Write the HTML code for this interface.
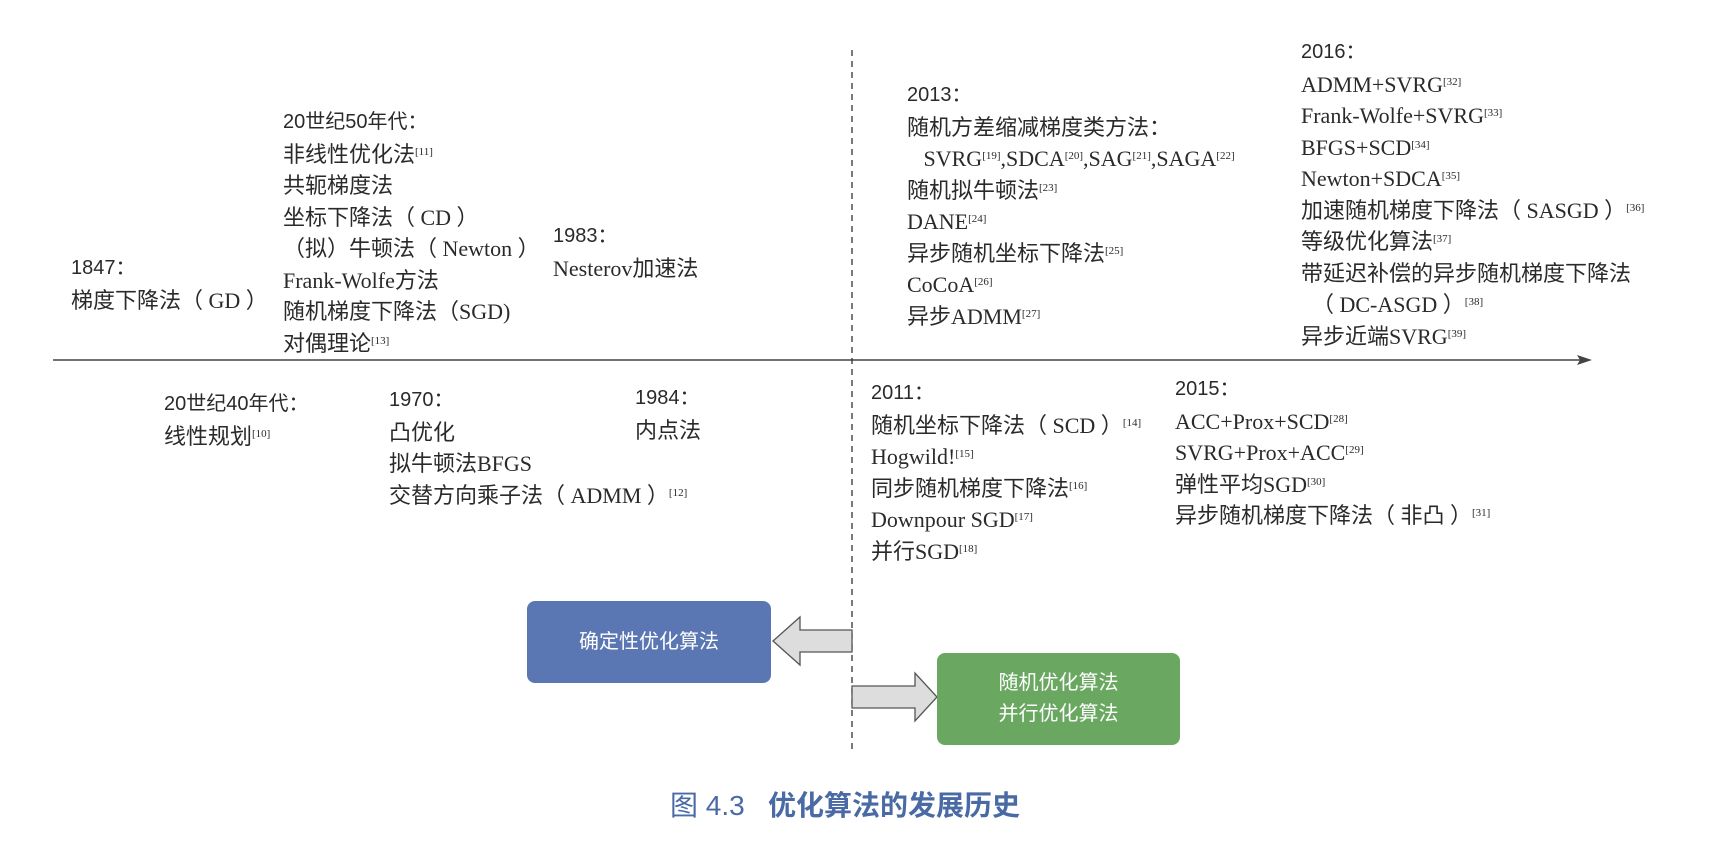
<!DOCTYPE html>
<html><head><meta charset="utf-8"><style>
body{margin:0;width:1722px;height:866px;background:#fff;position:relative;overflow:hidden;font-family:"Liberation Serif","Noto Sans CJK SC",serif;color:#2a2a2a}
.b{position:absolute;font-size:22px;line-height:31.5px;white-space:nowrap}
.h{font-family:"Liberation Sans","Noto Sans CJK SC",sans-serif;font-size:20px}
sup{font-size:11px;vertical-align:7px;line-height:0}
.box{position:absolute;border-radius:8px;color:#fff;font-family:"Liberation Sans","Noto Sans CJK SC",sans-serif;font-size:20px;display:flex;align-items:center;justify-content:center;text-align:center;line-height:31px}
</style></head><body>
<svg width="1722" height="866" style="position:absolute;left:0;top:0">
<line x1="53" y1="360" x2="1580" y2="360" stroke="#444" stroke-width="1.6"/>
<polygon points="1592,360 1577,355 1580,360 1577,365" fill="#444"/>
<line x1="852" y1="50" x2="852" y2="750" stroke="#333" stroke-width="1.3" stroke-dasharray="6,5"/>
<polygon points="852,630 800,630 800,617 773,641 800,665 800,652 852,652" fill="#ddd" stroke="#555" stroke-width="1.3"/>
<polygon points="852,686 915,686 915,673 937,697 915,721 915,708 852,708" fill="#ddd" stroke="#555" stroke-width="1.3"/>
</svg>
<div class="b" style="left:71px;top:251px"><span class="h">1847：</span><br>梯度下降法（ GD ）</div>
<div class="b" style="left:283px;top:105px"><span class="h">20世纪50年代：</span><br>非线性优化法<sup>[11]</sup><br>共轭梯度法<br>坐标下降法（ CD ）<br>（拟）牛顿法（ Newton ）<br>Frank-Wolfe方法<br>随机梯度下降法（SGD)<br>对偶理论<sup>[13]</sup></div>
<div class="b" style="left:553px;top:219px"><span class="h">1983：</span><br>Nesterov加速法</div>
<div class="b" style="left:164px;top:387px"><span class="h">20世纪40年代：</span><br>线性规划<sup>[10]</sup></div>
<div class="b" style="left:389px;top:383px"><span class="h">1970：</span><br>凸优化<br>拟牛顿法BFGS<br>交替方向乘子法（ ADMM ）<sup>[12]</sup></div>
<div class="b" style="left:635px;top:381px"><span class="h">1984：</span><br>内点法</div>
<div class="b" style="left:907px;top:78px"><span class="h">2013：</span><br>随机方差缩减梯度类方法：<br>&nbsp;&nbsp;&nbsp;SVRG<sup>[19]</sup>,SDCA<sup>[20]</sup>,SAG<sup>[21]</sup>,SAGA<sup>[22]</sup><br>随机拟牛顿法<sup>[23]</sup><br>DANE<sup>[24]</sup><br>异步随机坐标下降法<sup>[25]</sup><br>CoCoA<sup>[26]</sup><br>异步ADMM<sup>[27]</sup></div>
<div class="b" style="left:1301px;top:35px"><span class="h">2016：</span><br>ADMM+SVRG<sup>[32]</sup><br>Frank-Wolfe+SVRG<sup>[33]</sup><br>BFGS+SCD<sup>[34]</sup><br>Newton+SDCA<sup>[35]</sup><br>加速随机梯度下降法（ SASGD ）<sup>[36]</sup><br>等级优化算法<sup>[37]</sup><br>带延迟补偿的异步随机梯度下降法<br>&nbsp;&nbsp;（ DC-ASGD ）<sup>[38]</sup><br>异步近端SVRG<sup>[39]</sup></div>
<div class="b" style="left:871px;top:376px"><span class="h">2011：</span><br>随机坐标下降法（ SCD ）<sup>[14]</sup><br>Hogwild!<sup>[15]</sup><br>同步随机梯度下降法<sup>[16]</sup><br>Downpour SGD<sup>[17]</sup><br>并行SGD<sup>[18]</sup></div>
<div class="b" style="left:1175px;top:372px"><span class="h">2015：</span><br>ACC+Prox+SCD<sup>[28]</sup><br>SVRG+Prox+ACC<sup>[29]</sup><br>弹性平均SGD<sup>[30]</sup><br>异步随机梯度下降法（ 非凸 ）<sup>[31]</sup></div>
<div class="box" style="left:527px;top:601px;width:244px;height:82px;background:#5b77b3">确定性优化算法</div>
<div class="box" style="left:937px;top:653px;width:243px;height:92px;background:#6aa862">随机优化算法<br>并行优化算法</div>
<div style="position:absolute;left:670px;top:790px;font-family:'Liberation Sans','Noto Sans CJK SC',sans-serif;font-size:28px;color:#4a6aa6;white-space:nowrap;line-height:32px">图 4.3&nbsp;&nbsp;&nbsp;<b>优化算法的发展历史</b></div>
</body></html>
